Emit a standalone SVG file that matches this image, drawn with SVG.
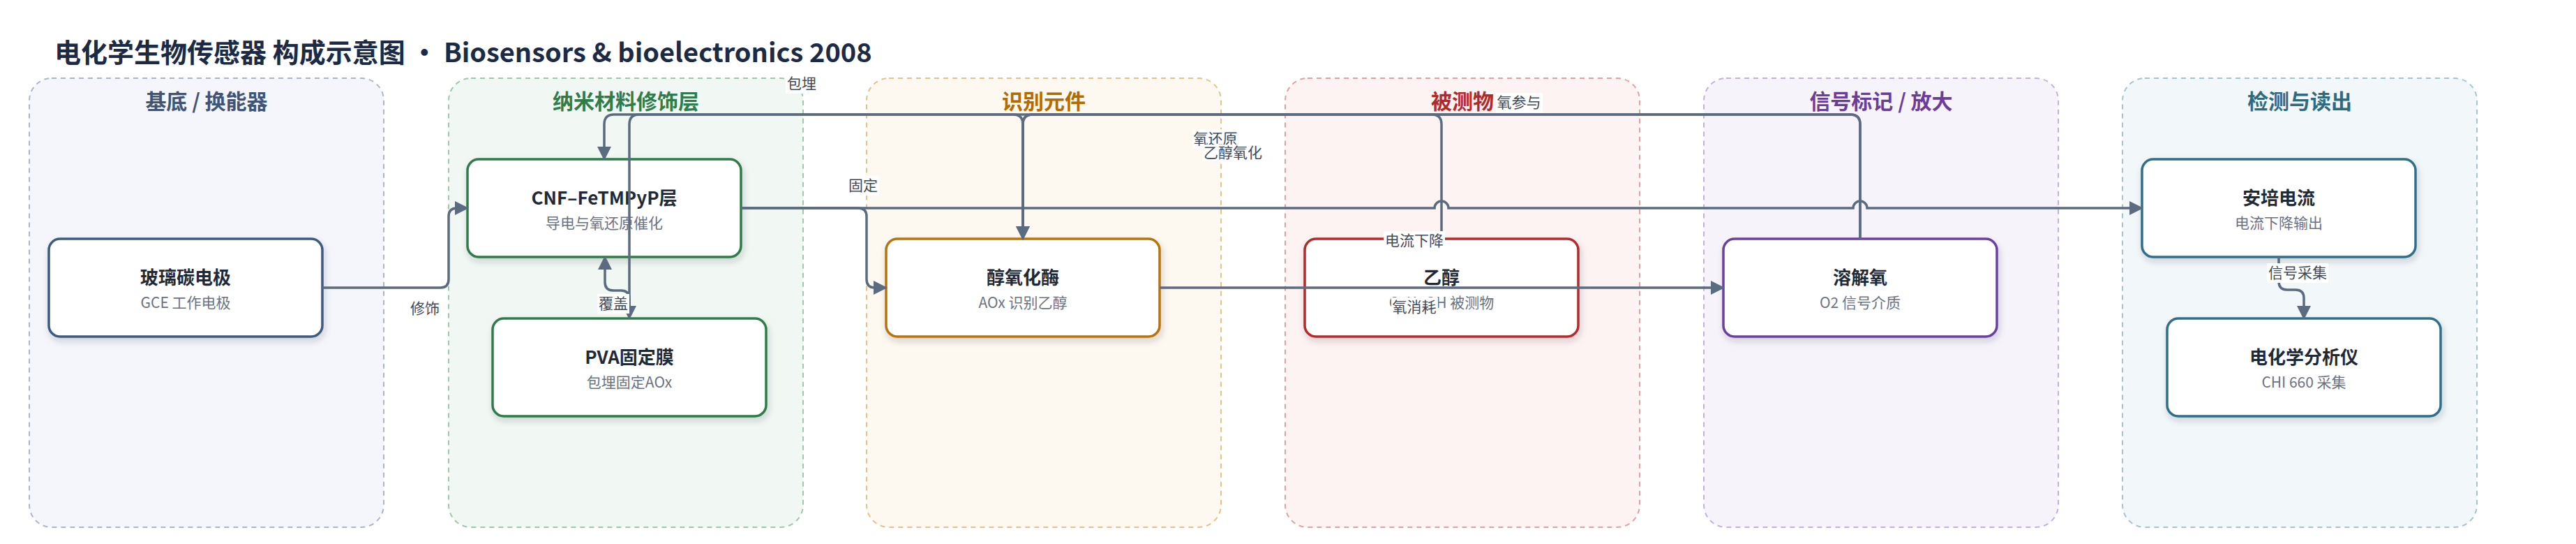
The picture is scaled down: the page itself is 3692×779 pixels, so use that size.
<svg xmlns="http://www.w3.org/2000/svg" width="3692" height="779" viewBox="0 0 3692 779">
<defs>
<style>
text{font-family:'Noto Sans CJK SC','Noto Sans',sans-serif}
.title{font-size:38px;font-weight:700;fill:#1b2b45}
.lane{stroke-width:2;stroke-dasharray:7 6}
.lt{font-size:30px;font-weight:700;text-anchor:middle}
.node{fill:#fff;stroke-width:3.5;filter:url(#sh)}
.nt{font-size:26px;font-weight:700;fill:#1f2937;text-anchor:middle}
.ns{font-size:21px;fill:#6b7280;text-anchor:middle}
.e{fill:none;stroke:#5b6b80;stroke-width:3.5;marker-end:url(#ah)}
.lb{fill:#fff}
.lx{font-size:21px;fill:#3f4a5a;text-anchor:middle}
</style>
<filter id="sh" x="-10%" y="-10%" width="120%" height="130%">
<feDropShadow dx="2" dy="5" stdDeviation="5" flood-color="#1f2937" flood-opacity="0.18"/>
</filter>
<marker id="ah" viewBox="0 0 20 20" refX="18" refY="10" markerWidth="20" markerHeight="20" markerUnits="userSpaceOnUse" orient="auto">
<path d="M0,0 L20,10 L0,20 z" fill="#5b6b80"/>
</marker>
</defs>
<rect width="3692" height="779" fill="#fff"/>
<text class="title" x="78" y="89">电化学生物传感器 构成示意图 · Biosensors &amp; bioelectronics 2008</text>

<g id="lanes">
<g id="lane-substrate"><rect class="lane" x="42" y="112" width="508" height="643" rx="32" fill="#f4f6fb" stroke="#a9b6cc"/><text class="lt" x="296" y="156" fill="#3f5577">基底 / 换能器</text></g>
<g id="lane-nano"><rect class="lane" x="643" y="112" width="508" height="643" rx="32" fill="#f1f8f3" stroke="#9cc9a8"/><text class="lt" x="897" y="156" fill="#2e7d4a">纳米材料修饰层</text></g>
<g id="lane-recog"><rect class="lane" x="1242" y="112" width="508" height="643" rx="32" fill="#fdf8f0" stroke="#e5c28a"/><text class="lt" x="1496" y="156" fill="#b36b00">识别元件</text></g>
<g id="lane-analyte"><rect class="lane" x="1842" y="112" width="508" height="643" rx="32" fill="#fdf3f3" stroke="#e3a0a0"/><text class="lt" x="2096" y="156" fill="#b02a2a">被测物</text></g>
<g id="lane-signal"><rect class="lane" x="2442" y="112" width="508" height="643" rx="32" fill="#f6f3fb" stroke="#c4b0e0"/><text class="lt" x="2696" y="156" fill="#6a3d9a">信号标记 / 放大</text></g>
<g id="lane-readout"><rect class="lane" x="3042" y="112" width="508" height="643" rx="32" fill="#f2f7f9" stroke="#a6c4cf"/><text class="lt" x="3296" y="156" fill="#2e6b80">检测与读出</text></g>
</g>

<g id="node-gce"><rect class="node" x="70" y="342" width="392" height="140" rx="16" stroke="#3d5a80"/><text class="nt" x="266" y="407">玻璃碳电极</text><text class="ns" x="266" y="441">GCE 工作电极</text></g>
<g id="node-cnf"><rect class="node" x="670" y="228" width="392" height="140" rx="16" stroke="#2e7d4a"/><text class="nt" x="866" y="293">CNF–FeTMPyP层</text><text class="ns" x="866" y="327">导电与氧还原催化</text></g>
<g id="node-pva"><rect class="node" x="706" y="456" width="392" height="140" rx="16" stroke="#2e7d4a"/><text class="nt" x="902" y="521">PVA固定膜</text><text class="ns" x="902" y="555">包埋固定AOx</text></g>
<g id="node-aox"><rect class="node" x="1270" y="342" width="392" height="140" rx="16" stroke="#b8730a"/><text class="nt" x="1466" y="407">醇氧化酶</text><text class="ns" x="1466" y="441">AOx 识别乙醇</text></g>
<g id="node-ethanol"><rect class="node" x="1870" y="342" width="392" height="140" rx="16" stroke="#b52a2a"/><text class="nt" x="2066" y="407">乙醇</text><text class="ns" x="2066" y="441">C2H5OH 被测物</text></g>
<g id="node-o2"><rect class="node" x="2470" y="342" width="392" height="140" rx="16" stroke="#6b3fa0"/><text class="nt" x="2666" y="407">溶解氧</text><text class="ns" x="2666" y="441">O2 信号介质</text></g>
<g id="node-amp"><rect class="node" x="3070" y="228" width="392" height="140" rx="16" stroke="#2f6f8a"/><text class="nt" x="3266" y="293">安培电流</text><text class="ns" x="3266" y="327">电流下降输出</text></g>
<g id="node-chi"><rect class="node" x="3106" y="456" width="392" height="140" rx="16" stroke="#2f6f8a"/><text class="nt" x="3302" y="521">电化学分析仪</text><text class="ns" x="3302" y="555">CHI 660 采集</text></g>

<g id="connectors">
<path class="e" d="M462,412 H631 Q643,412 643,400 V310 Q643,298 655,298 H670"/>
<path class="e" d="M1466,342 V178 Q1466,164 1452,164 H916 Q902,164 902,178 V456"/>
<path class="e" d="M902,456 V428 Q902,416 890,416 H879 Q867,416 867,404 V368"/>
<path class="e" d="M1062,298 H1230 Q1242,298 1242,310 V400 Q1242,412 1254,412 H1270"/>
<path class="e" d="M2666,342 V178 Q2666,164 2652,164 H880 Q866,164 866,178 V228"/>
<path class="e" d="M2066,342 V178 Q2066,164 2052,164 H1480 Q1466,164 1466,178 V342"/>
<path class="e" d="M2666,342 V178 Q2666,164 2652,164 H1480 Q1466,164 1466,178 V342"/>
<path class="e" d="M1662,412 H2470"/>
<path class="e" d="M1062,298 H2056 A10,10 0 0 1 2076,298 H2656 A10,10 0 0 1 2676,298 H3070"/>
<path class="e" d="M3266,368 V403 Q3266,415 3278,415 H3290 Q3302,415 3302,427 V456"/>
</g>

<g id="labels">
<rect class="lb" x="586" y="428" width="46" height="28"/><text class="lx" x="609" y="449">修饰</text>
<rect class="lb" x="856" y="421" width="46" height="28"/><text class="lx" x="879" y="442">覆盖</text>
<rect class="lb" x="1126" y="106" width="46" height="28"/><text class="lx" x="1149" y="127">包埋</text>
<rect class="lb" x="1214" y="252" width="46" height="28"/><text class="lx" x="1237" y="273">固定</text>
<rect class="lb" x="1709" y="185" width="67" height="28"/><text class="lx" x="1742" y="206">氧还原</text>
<rect class="lb" x="1723" y="207" width="88" height="24"/><text class="lx" x="1767" y="226">乙醇氧化</text>
<rect class="lb" x="2144" y="133" width="67" height="28"/><text class="lx" x="2177" y="154">氧参与</text>
<rect class="lb" x="1983" y="331" width="88" height="28"/><text class="lx" x="2027" y="352">电流下降</text>
<rect class="lb" x="1994" y="426" width="67" height="28"/><text class="lx" x="2027" y="447">氧消耗</text>
<rect class="lb" x="3249" y="377" width="88" height="28"/><text class="lx" x="3293" y="398">信号采集</text>
</g>
</svg>
